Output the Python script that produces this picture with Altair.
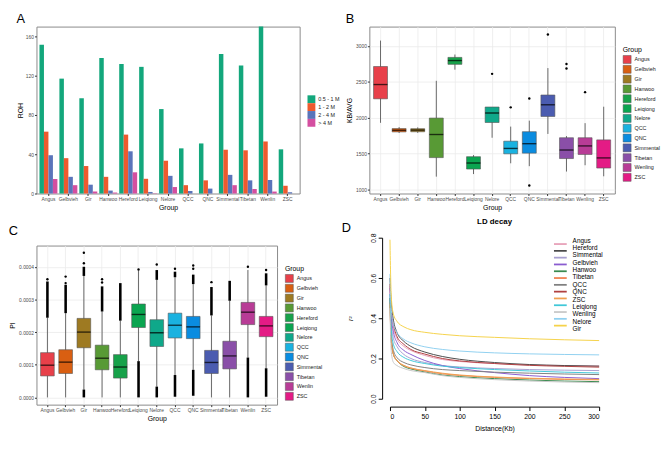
import altair as alt
import pandas as pd

FONT = "Liberation Sans"

# ---------------- shared categories ----------------
groups = ["Angus", "Gelbvieh", "Gir", "Hanwoo", "Hereford", "Leiqiong", "Nelore",
          "QCC", "QNC", "Simmental", "Tibetan", "Wenlin", "ZSC"]
groups_b = ["Angus", "Gelbvieh", "Gir", "Hanwoo", "Hereford", "Leiqiong", "Nelore",
            "QCC", "QNC", "Simmental", "Tibetan", "Wenling", "ZSC"]
group_colors = ["#E8404A", "#D95F12", "#9E7A22", "#589A35", "#17A24A", "#0AA550", "#0FA88A",
                "#1AB2E0", "#0A8CE0", "#4B5CB0", "#8A4FA8", "#B83C96", "#E41B85"]

# ---------------- A: ROH counts ----------------
roh_cats = ["0.5 - 1 M", "1 - 2 M", "2 - 4 M", "> 4 M"]
roh_colors = ["#13A77C", "#EE5A2E", "#5A74BA", "#D44FA0"]
roh_05_1 = [151.5, 117, 97, 138, 132, 129, 86, 46, 51, 142, 130.5, 170, 45]
roh_1_2 = [63, 36, 28, 17, 60, 15, 33.4, 8.5, 13.4, 44.6, 44, 53, 7.9]
roh_2_4 = [39, 17, 9, 3, 43, 1.6, 18, 2.6, 5, 19, 13.4, 13.8, 1.3]
roh_4 = [14.8, 8.5, 2, 1, 21.6, 0.3, 6.6, 0, 0, 8.5, 4.6, 2, 0]

# ---------------- B: KB/AVG boxplots ----------------
kb_lo = [1930, 1788, 1790, 1180, 2670, 1216, 1722, 1366, 1326, 1775, 1251, 1339, 1185]
kb_q1 = [2264, 1803, 1805, 1445, 2744, 1286, 1934, 1498, 1507, 2018, 1432, 1489, 1300]
kb_med = [2463, 1826, 1828, 1767, 2797, 1370, 2066, 1573, 1639, 2181, 1551, 1608, 1441]
kb_q3 = [2714, 1850, 1848, 1996, 2841, 1458, 2150, 1674, 1806, 2317, 1722, 1722, 1692]
kb_hi = [3075, 1870, 1866, 2515, 2881, 1480, 2150, 1877, 1960, 2692, 1745, 1925, 2154]
kb_out_group = ["Nelore", "QCC", "QNC", "QNC", "Simmental", "Tibetan", "Tibetan", "Wenling"]
kb_out_val = [2612, 2145, 2269, 1057, 3159, 2749, 2687, 2357]

# ---------------- C: PI boxplots ----------------
pi_lo = [0, 0, 0.000024, 0, 0, 0.000111, 0.000033, 0.0000685, 0.0000845, 0, 0, 0.000122, 0.0000892]
pi_q1 = [0.0000657, 0.0000732, 0.000152, 0.0000845, 0.0000592, 0.000214, 0.000156, 0.000182,
         0.00018, 0.0000732, 0.0000873, 0.000223, 0.000186]
pi_med = [0.0000986, 0.000108, 0.0002, 0.00012, 0.000093, 0.000254, 0.000198, 0.000221,
          0.000216, 0.000107, 0.000127, 0.000261, 0.000219]
pi_q3 = [0.000137, 0.000146, 0.000242, 0.00016, 0.000131, 0.000286, 0.000238, 0.000258,
         0.000248, 0.000144, 0.000172, 0.000291, 0.000248]
pi_hi = [0.000244, 0.000258, 0.000372, 0.000263, 0.000235, 0.00039, 0.00036, 0.000368,
         0.000347, 0.000251, 0.000296, 0.00039, 0.000343]
# dense runs of outliers (upper run top, lower run bottom); None = no run
pi_up_run_top = [0.000355, 0.000345, 0.0004, 0.00034, 0.00035, None, 0.00039, 0.000385,
                 0.000376, 0.000338, 0.000357, None, 0.00038]
pi_low_run_bottom = [None, None, 0, None, None, 0, 0, 0.000002, 0.000005, None, None, 0, 0.000002]
pi_out_group = ["Angus", "Gelbvieh", "Gelbvieh", "Gir", "Gir", "Hanwoo", "Hanwoo", "Leiqiong",
                "Nelore", "QCC", "QNC", "QNC", "Simmental", "Wenlin", "ZSC"]
pi_out_val = [0.000362, 0.00035, 0.00037, 0.000411, 0.000443, 0.000352, 0.000362, 0.000392,
              0.000407, 0.000394, 0.000394, 0.000404, 0.000353, 0.0004, 0.00039]

# ---------------- D: LD decay ----------------
ld_dist = [0, 1, 2, 5, 10, 20, 30, 50, 75, 100, 150, 200, 250, 300]
ld_order = ["Angus", "Hereford", "Simmental", "Gelbvieh", "Hanwoo", "Tibetan", "QCC", "QNC",
            "ZSC", "Leiqiong", "Wenling", "Nelore", "Gir"]
ld_colors = ["#E7A0B8", "#4A4A4A", "#A8A0D0", "#8A5CD0", "#3A8A50", "#F08050", "#808080",
             "#B04040", "#F0A050", "#40C8D8", "#C8C8C8", "#90D0F0", "#F5D24A"]
ld_Angus = [0.56, 0.47, 0.42, 0.35, 0.30, 0.26, 0.24, 0.215, 0.195, 0.185, 0.175, 0.168, 0.165, 0.163]
ld_Hereford = [0.60, 0.52, 0.47, 0.39, 0.33, 0.285, 0.26, 0.232, 0.21, 0.196, 0.18, 0.17, 0.165, 0.162]
ld_Simmental = [0.52, 0.42, 0.37, 0.30, 0.26, 0.22, 0.20, 0.18, 0.165, 0.158, 0.15, 0.145, 0.142, 0.14]
ld_Gelbvieh = [0.55, 0.45, 0.40, 0.33, 0.28, 0.24, 0.22, 0.19, 0.165, 0.15, 0.13, 0.115, 0.106, 0.10]
ld_Hanwoo = [0.50, 0.36, 0.29, 0.22, 0.19, 0.16, 0.148, 0.133, 0.118, 0.11, 0.10, 0.093, 0.088, 0.085]
ld_Tibetan = [0.48, 0.35, 0.28, 0.22, 0.19, 0.165, 0.152, 0.138, 0.124, 0.116, 0.106, 0.10, 0.096, 0.094]
ld_QCC = [0.50, 0.38, 0.31, 0.24, 0.205, 0.18, 0.168, 0.155, 0.145, 0.14, 0.132, 0.127, 0.123, 0.12]
ld_QNC = [0.57, 0.49, 0.44, 0.37, 0.31, 0.27, 0.245, 0.222, 0.20, 0.188, 0.175, 0.166, 0.161, 0.157]
ld_ZSC = [0.47, 0.34, 0.28, 0.22, 0.19, 0.165, 0.153, 0.14, 0.127, 0.118, 0.108, 0.102, 0.098, 0.096]
ld_Leiqiong = [0.52, 0.40, 0.34, 0.27, 0.235, 0.205, 0.19, 0.175, 0.162, 0.155, 0.145, 0.138, 0.132, 0.128]
ld_Wenling = [0.45, 0.30, 0.23, 0.18, 0.165, 0.15, 0.14, 0.13, 0.115, 0.106, 0.095, 0.088, 0.083, 0.08]
ld_Nelore = [0.62, 0.50, 0.44, 0.37, 0.33, 0.295, 0.278, 0.258, 0.245, 0.237, 0.228, 0.223, 0.22, 0.218]
ld_Gir = [0.79, 0.60, 0.50, 0.42, 0.385, 0.357, 0.343, 0.33, 0.32, 0.313, 0.305, 0.298, 0.293, 0.289]
ld_series = {"Angus": ld_Angus, "Hereford": ld_Hereford, "Simmental": ld_Simmental,
             "Gelbvieh": ld_Gelbvieh, "Hanwoo": ld_Hanwoo, "Tibetan": ld_Tibetan, "QCC": ld_QCC,
             "QNC": ld_QNC, "ZSC": ld_ZSC, "Leiqiong": ld_Leiqiong, "Wenling": ld_Wenling,
             "Nelore": ld_Nelore, "Gir": ld_Gir}

# ---------------- build tables ----------------
dfA = pd.DataFrame([
    {"Group": g, "cat": c, "ROH": v}
    for c, vals in zip(roh_cats, [roh_05_1, roh_1_2, roh_2_4, roh_4])
    for g, v in zip(groups, vals)
])
dfB = pd.DataFrame({"Group": groups_b, "lo": kb_lo, "q1": kb_q1, "med": kb_med, "q3": kb_q3, "hi": kb_hi})
dfBo = pd.DataFrame({"Group": kb_out_group, "val": kb_out_val})
dfC = pd.DataFrame({"Group": groups, "lo": pi_lo, "q1": pi_q1, "med": pi_med, "q3": pi_q3, "hi": pi_hi})
dfCrun = pd.DataFrame(
    [{"Group": g, "a": h, "b": t} for g, h, t in zip(groups, pi_hi, pi_up_run_top) if t is not None]
    + [{"Group": g, "a": b, "b": l} for g, l, b in zip(groups, pi_lo, pi_low_run_bottom) if b is not None]
)
dfCo = pd.DataFrame({"Group": pi_out_group, "val": pi_out_val})
dfD = pd.DataFrame([
    {"Breed": name, "dist": d, "r2": v}
    for name in ld_order for d, v in zip(ld_dist, ld_series[name])
])
dfDleg = pd.DataFrame({"Breed": ld_order})

LABEL_GREY = "#4D4D4D"


def panel_title(t, off=1):
    return alt.TitleParams(t, anchor="start", frame="bounds", fontSize=13, fontWeight="normal",
                           offset=off, font=FONT)


def band_axis(title, grid):
    return alt.Axis(title=title, labelFontSize=5, labelColor=LABEL_GREY, tickSize=2, tickColor="#333",
                    labelPadding=1, titleFontSize=7, titleFontWeight="normal", titlePadding=2,
                    domain=False, labelAngle=0, labelOverlap=False, bandPosition=0.5, grid=grid,
                    gridColor="#EBEBEB", gridWidth=0.8)


# ---------------- Panel A ----------------
WA, HA = 268, 170
chartA = alt.Chart(dfA).mark_bar().encode(
    x=alt.X("Group:N", sort=groups, scale=alt.Scale(paddingInner=0.1, paddingOuter=0.15),
            axis=band_axis("Group", False)),
    xOffset=alt.XOffset("cat:N", sort=roh_cats, scale=alt.Scale(paddingInner=0, paddingOuter=0)),
    y=alt.Y("ROH:Q", scale=alt.Scale(domain=[0, 170], nice=False),
            axis=alt.Axis(title="ROH", values=[0, 40, 80, 120, 160], labelFontSize=5, labelColor=LABEL_GREY,
                          tickSize=2, tickColor="#333", labelPadding=1, titleFontSize=7,
                          titleFontWeight="normal", titlePadding=2, domain=False, grid=False)),
    color=alt.Color("cat:N", scale=alt.Scale(domain=roh_cats, range=roh_colors), title=None,
                    legend=alt.Legend(orient="none", legendX=WA + 8, legendY=70, symbolType="square",
                                      symbolSize=64, symbolStrokeWidth=0, labelFontSize=5.5,
                                      labelColor="#222", rowPadding=-0.5, labelOffset=3)),
).properties(width=WA, height=HA, title=panel_title("A"))

# ---------------- box panel helper ----------------


def box_panel(df, dfo, dfrun, cats, yscale, yaxis, width, height, legend_y, title):
    step = width / (len(cats) - 0.25 + 2 * 0.225)
    bw = step * 0.75
    xenc = alt.X("Group:N", sort=cats, scale=alt.Scale(paddingInner=0.25, paddingOuter=0.225),
                 axis=band_axis("Group", True))
    base = alt.Chart(df).encode(x=xenc)
    whisk = base.mark_rule(color="#444", strokeWidth=0.8).encode(
        y=alt.Y("lo:Q", scale=yscale, axis=yaxis), y2="hi:Q")
    layers = [whisk]
    if dfrun is not None:
        runs = alt.Chart(dfrun).mark_rule(color="black", strokeWidth=2.6).encode(
            x=alt.X("Group:N", sort=cats), y="a:Q", y2="b:Q")
        layers.append(runs)
    box = base.mark_bar(stroke="#555", strokeWidth=0.6).encode(
        y="q1:Q", y2="q3:Q",
        color=alt.Color("Group:N", scale=alt.Scale(domain=cats, range=group_colors),
                        legend=alt.Legend(title="Group", orient="none", legendX=width + 8, legendY=legend_y,
                                          symbolType="square", symbolSize=66, symbolStrokeColor="#555",
                                          symbolStrokeWidth=0.5, labelFontSize=5.5, titleFontSize=7,
                                          titleFontWeight="normal", labelColor="#222", rowPadding=-3.2,
                                          labelOffset=3, titlePadding=2)))
    med = base.mark_tick(color="black", thickness=1.4, size=bw).encode(y="med:Q")
    outl = alt.Chart(dfo).mark_circle(color="black", size=6, opacity=1).encode(
        x=alt.X("Group:N", sort=cats), y="val:Q")
    layers += [box, med, outl]
    return alt.layer(*layers).properties(width=width, height=height, title=title)


# ---------------- Panel B ----------------
WB, HB = 250, 170
yB = alt.Scale(domain=[945, 3270], nice=False, zero=False)
axB = alt.Axis(title="KB/AVG", values=[1000, 1250, 1500, 1750, 2000, 2250, 2500, 2750, 3000, 3250],
               labelExpr="datum.value % 500 == 0 ? datum.label : ''", format="d",
               labelFontSize=5, labelColor=LABEL_GREY, tickSize=2,
               tickColor={"condition": {"test": "datum.value % 500 != 0", "value": "transparent"},
                          "value": "#333"},
               labelPadding=1, titleFontSize=7, titleFontWeight="normal", titlePadding=3, domain=False,
               grid=True, gridColor="#EBEBEB", gridWidth=0.8)
chartB = box_panel(dfB, dfBo, None, groups_b, yB, axB, WB, HB, 20, panel_title("B"))

# ---------------- Panel C ----------------
WC, HC = 245, 162
yC = alt.Scale(domain=[-0.0000222, 0.000465], nice=False, zero=False)
axC = alt.Axis(title="PI", values=[0, 0.00005, 0.0001, 0.00015, 0.0002, 0.00025, 0.0003, 0.00035, 0.0004, 0.00045],
               format=".4f", labelExpr="round(datum.value*20000) % 2 == 1 ? '' : datum.label",
               labelFontSize=5, labelColor=LABEL_GREY, tickSize=2,
               tickColor={"condition": {"test": "round(datum.value*20000) % 2 == 1", "value": "transparent"},
                          "value": "#333"},
               labelPadding=1, titleFontSize=7, titleFontWeight="normal", titlePadding=3, domain=False,
               grid=True, gridColor="#EBEBEB", gridWidth=0.8)
chartC = box_panel(dfC, dfCo, dfCrun, groups, yC, axC, WC, HC, 20, panel_title("C", off=8))

# ---------------- Panel D ----------------
WD, HD = 213, 162
ld_color_scale = alt.Scale(domain=ld_order, range=ld_colors)
lines = alt.Chart(dfD).mark_line(strokeWidth=1, interpolate="monotone").encode(
    x=alt.X("dist:Q", scale=alt.Scale(domain=[0, 300], nice=False),
            axis=alt.Axis(title="Distance(Kb)", values=[0, 50, 100, 150, 200, 250, 300], offset=2,
                          labelFontSize=7, labelColor="black", tickSize=4, tickColor="black",
                          domainColor="black", labelPadding=2, titleFontSize=7, titleFontWeight="normal",
                          titlePadding=5, grid=False)),
    y=alt.Y("r2:Q", scale=alt.Scale(domain=[0, 0.8], nice=False, range=[HD - 6, -8]),
            axis=alt.Axis(title="r²", titleFontStyle="italic", values=[0, 0.2, 0.4, 0.6, 0.8], format=".1f",
                          offset=8, labelFontSize=7, labelColor="black", labelAngle=270, labelAlign="center",
                          labelBaseline="bottom", tickSize=4, tickColor="black", domainColor="black",
                          labelPadding=2, titleFontSize=7, titleFontWeight="normal", titlePadding=16,
                          grid=False)),
    color=alt.Color("Breed:N", sort=ld_order, scale=ld_color_scale, legend=None),
    detail="Breed:N",
)
# hand-built legend (R base style: short line + label, tightly packed)
leg_y = alt.Y("Breed:N", sort=ld_order, scale=alt.Scale(range=[-5, 85], padding=0), axis=None)
leg_sym = alt.Chart(dfDleg).mark_rule(strokeWidth=1.8).encode(
    x=alt.value(WD - 46), x2=alt.value(WD - 33), y=leg_y,
    color=alt.Color("Breed:N", sort=ld_order, scale=ld_color_scale, legend=None))
leg_txt = alt.Chart(dfDleg).mark_text(align="left", baseline="middle", fontSize=6.5, font=FONT,
                                      color="black").encode(
    x=alt.value(WD - 27), y=leg_y, text="Breed:N")
dtext = pd.DataFrame({"t": ["D"]})
letterD = alt.Chart(dtext).mark_text(
    fontSize=13, align="left", baseline="bottom", font=FONT, color="black"
).encode(text="t:N", x=alt.value(-49), y=alt.value(-11))
ttext = pd.DataFrame({"t": ["LD decay"]})
titleD = alt.Chart(ttext).mark_text(
    fontSize=8, fontWeight="bold", align="center", baseline="middle", font=FONT, color="black"
).encode(text="t:N", x=alt.value(WD / 2), y=alt.value(-24))
chartD = alt.layer(lines, leg_sym, leg_txt, letterD, titleD).resolve_scale(y="independent").properties(
    width=WD, height=HD,
    view=alt.ViewBackground(stroke="transparent"),
)

top = alt.hconcat(chartA, chartB, spacing=4).resolve_scale(color="independent", x="independent", y="independent")
bottom = alt.hconcat(chartC, chartD, spacing=18).resolve_scale(color="independent", x="independent", y="independent")
chart = alt.vconcat(top, bottom, spacing=6).resolve_scale(
    color="independent", x="independent", y="independent"
).properties(padding=0).configure(font=FONT).configure_view(stroke="#8A8A8A", strokeWidth=1)

chart.save("out.html", embed_options={"renderer": "svg", "actions": False})
